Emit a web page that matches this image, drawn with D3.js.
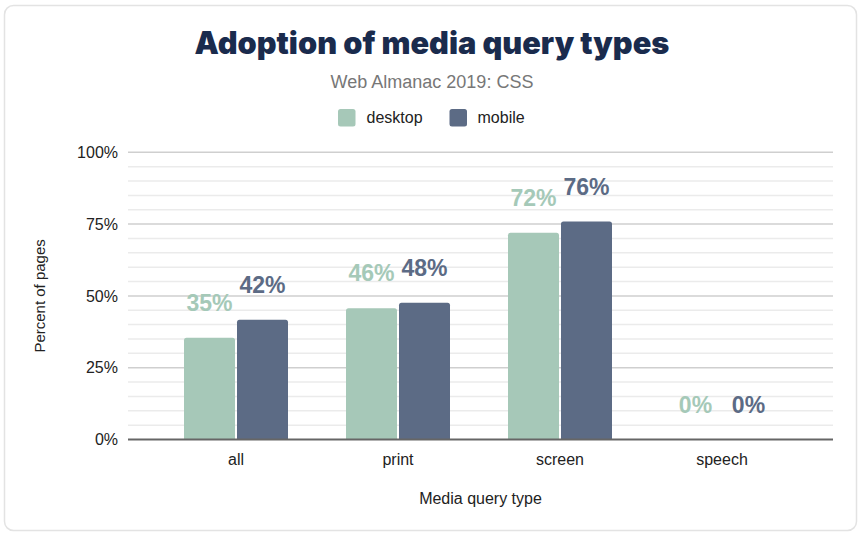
<!DOCTYPE html>
<html>
<head>
<meta charset="utf-8">
<script src="https://cdn.jsdelivr.net/npm/d3@7"></script>
<style>
  html, body { margin: 0; padding: 0; background: #fff; }
  svg { display: block; }
</style>
</head>
<body>
<svg id="chart" width="859" height="533"></svg>
<script>
const categories = ["all", "print", "screen", "speech"];
const seriesNames = ["desktop", "mobile"];
const desktopValues = [35.4, 45.7, 72.0, 0];
const mobileValues = [41.7, 47.6, 75.9, 0];
const desktopLabels = ["35%", "46%", "72%", "0%"];
const mobileLabels = ["42%", "48%", "76%", "0%"];
const yTicks = [0, 25, 50, 75, 100];
const yTickLabels = ["0%", "25%", "50%", "75%", "100%"];

const colors = { desktop: "#a6c8b8", mobile: "#5c6b85" };
const labelColors = { desktop: "#a5c9b8", mobile: "#5c6b85" };

const svg = d3.select("#chart");
const W = 859, H = 533;
const plot = { left: 128, right: 833, top: 152.3, bottom: 439.5 };

// Card border
svg.append("rect")
  .attr("x", 4.5).attr("y", 5.5).attr("width", W - 7).attr("height", H - 8)
  .attr("rx", 9).attr("ry", 9)
  .attr("fill", "#fff").attr("stroke", "#e3e3e3").attr("stroke-width", 1.5);

const x = d3.scalePoint().domain(categories).range([plot.left, 830]).padding(0.6667);
const y = d3.scaleLinear().domain([0, 100]).range([plot.bottom, plot.top]);

// Gridlines (minor every 5, major every 25)
const gridVals = d3.range(5, 101, 5);
svg.append("g").selectAll("line").data(gridVals).join("line")
  .attr("x1", plot.left).attr("x2", plot.right)
  .attr("y1", d => y(d)).attr("y2", d => y(d))
  .attr("stroke", d => d % 25 === 0 ? "#cfcfcf" : "#ebebeb")
  .attr("stroke-width", 1.5);

// Y axis labels
svg.append("g").selectAll("text").data(yTicks).join("text")
  .attr("x", 118).attr("y", d => y(d)).attr("dy", "0.35em")
  .attr("text-anchor", "end")
  .attr("font-family", "Liberation Sans, Arial, sans-serif")
  .attr("font-size", 16).attr("fill", "#222")
  .text((d, i) => yTickLabels[i]);

// Y axis title
svg.append("text")
  .attr("transform", `translate(45,${(plot.top + plot.bottom) / 2}) rotate(-90)`)
  .attr("text-anchor", "middle")
  .attr("font-family", "Liberation Sans, Arial, sans-serif")
  .attr("font-size", 15).attr("fill", "#222")
  .text("Percent of pages");

// Bars
const barW = 51, gap = 1;
function roundedTop(x0, y0, w, h, r) {
  r = Math.min(r, h, w / 2);
  if (h <= 0) return "";
  return `M${x0},${y0 + h} V${y0 + r} Q${x0},${y0} ${x0 + r},${y0} H${x0 + w - r} Q${x0 + w},${y0} ${x0 + w},${y0 + r} V${y0 + h} Z`;
}
const series = [
  { name: "desktop", values: desktopValues, labels: desktopLabels, off: -gap - barW },
  { name: "mobile", values: mobileValues, labels: mobileLabels, off: gap }
];
series.forEach(s => {
  const g = svg.append("g");
  g.selectAll("path").data(categories).join("path")
    .attr("d", (c, i) => {
      const v = s.values[i];
      const x0 = x(c) + s.off;
      const y0 = y(v);
      return roundedTop(x0, y0, barW, y(0) - y0, 2.5);
    })
    .attr("fill", colors[s.name]);
  g.selectAll("text").data(categories).join("text")
    .attr("x", c => x(c) + s.off + barW / 2)
    .attr("y", (c, i) => y(s.values[i]) - 27)
    .attr("text-anchor", "middle")
    .attr("font-family", "Liberation Sans, Arial, sans-serif")
    .attr("font-weight", "bold")
    .attr("font-size", 23)
    .attr("fill", labelColors[s.name])
    .text((c, i) => s.labels[i]);
});

// X axis baseline
svg.append("line")
  .attr("x1", plot.left).attr("x2", plot.right)
  .attr("y1", y(0)).attr("y2", y(0))
  .attr("stroke", "#666").attr("stroke-width", 2);

// X axis labels
svg.append("g").selectAll("text").data(categories).join("text")
  .attr("x", c => x(c)).attr("y", 465)
  .attr("text-anchor", "middle")
  .attr("font-family", "Liberation Sans, Arial, sans-serif")
  .attr("font-size", 16).attr("fill", "#222")
  .text(c => c);

// X axis title
svg.append("text")
  .attr("x", (plot.left + plot.right) / 2).attr("y", 504)
  .attr("text-anchor", "middle")
  .attr("font-family", "Liberation Sans, Arial, sans-serif")
  .attr("font-size", 16).attr("fill", "#222")
  .text("Media query type");

// Title
const title = svg.append("text")
  .attr("x", 432).attr("y", 54)
  .attr("text-anchor", "middle")
  .attr("font-family", "Inter, Lato, sans-serif")
  .attr("font-weight", 900)
  .attr("font-size", 28).attr("fill", "#1a2b4d")
  .text("Adoption of media query types");
const tw = title.node().getComputedTextLength();
if (tw > 0) title.attr("font-size", 28 * 475 / tw);

// Subtitle
svg.append("text")
  .attr("x", 432).attr("y", 88)
  .attr("text-anchor", "middle")
  .attr("font-family", "Liberation Sans, Arial, sans-serif")
  .attr("font-size", 18).attr("fill", "#777")
  .text("Web Almanac 2019: CSS");

// Legend
const legendItems = [
  { name: "desktop", sx: 338, tx: 366.5 },
  { name: "mobile", sx: 449.5, tx: 477.5 }
];
const lg = svg.append("g");
lg.selectAll("rect").data(legendItems).join("rect")
  .attr("x", d => d.sx).attr("y", 109).attr("width", 17.5).attr("height", 17.5)
  .attr("rx", 2.5).attr("fill", d => colors[d.name]);
lg.selectAll("text").data(legendItems).join("text")
  .attr("x", d => d.tx).attr("y", 123)
  .attr("font-family", "Liberation Sans, Arial, sans-serif")
  .attr("font-size", 16).attr("fill", "#222")
  .text(d => d.name);
</script>
</body>
</html>
